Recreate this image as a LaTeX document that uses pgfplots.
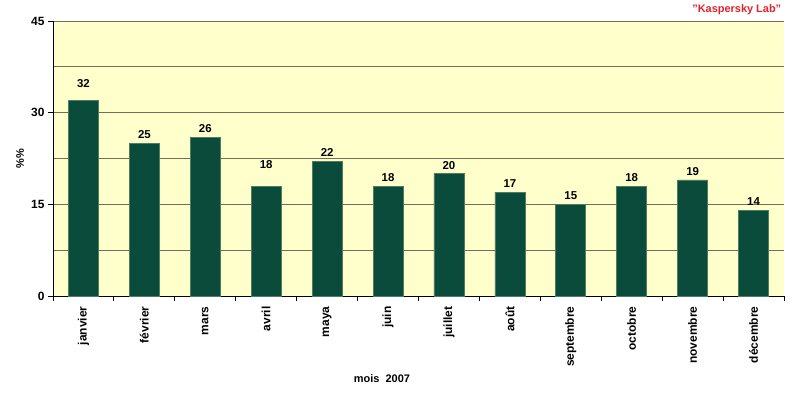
\documentclass[border=0pt]{standalone}
\usepackage{pgfplots}
\pgfplotsset{compat=1.18}
\usepackage{fontspec}
\setmainfont{Liberation Sans}
\definecolor{bg}{HTML}{FFFFCC}
\definecolor{bar}{HTML}{0A4B3C}
\definecolor{barline}{HTML}{4E7E5E}
\definecolor{gridc}{HTML}{707058}
\definecolor{kred}{HTML}{E0242C}
\pgfplotstableread{
x y off
0 32 12.6
1 25 4.6
2 26 4.6
3 18 18
4 22 4.6
5 18 4.6
6 20 4.6
7 17 4.6
8 15 4.6
9 18 4.6
10 19 4.6
11 14 4.6
}\datatable
\begin{document}
\begin{tikzpicture}[x=1bp,y=1bp]
\path[use as bounding box] (-53bp,-104bp) rectangle (747bp,296bp);
\begin{axis}[
  at={(0,0)}, anchor=south west,
  scale only axis, width=731bp, height=275bp,
  xmin=-0.5, xmax=11.5, ymin=0, ymax=45,
  axis x line=bottom, axis y line=left,
  axis line style={-, black, line width=1pt},
  axis background/.style={fill=bg},
  xtick={-0.5,0.5,...,11.5},
  x tick label as interval,
  xticklabels={janvier,février,mars,avril,maya,juin,juillet,août,septembre,octobre,novembre,décembre},
  xticklabel style={rotate=90, anchor=east, font=\fontsize{12}{13}\selectfont\bfseries, xshift=-2bp},
  ytick={0,15,30,45},
  minor ytick={7.5,22.5,37.5},
  yticklabel style={font=\fontsize{12}{13}\selectfont\bfseries},
  /pgf/number format/assume math mode=true,
  ymajorgrids, yminorgrids,
  major grid style={gridc, line width=1pt},
  minor grid style={gridc, line width=1pt},
  tick style={black, line width=1pt},
  major tick length=5bp, minor tick length=0bp,
  tick align=outside,
  xtick pos=bottom, ytick pos=left,
  clip=false,
]
\addplot[ybar, bar width=30bp, fill=bar, draw=barline, line width=0.6bp,
  nodes near coords,
  visualization depends on={\thisrow{off} \as \labeloff},
  every node near coord/.append style={font=\fontsize{11.5}{12}\selectfont\bfseries, black, anchor=base, inner sep=0pt, yshift=\labeloff}]
  table[x=x, y=y] {\datatable};
\node[font=\fontsize{11}{12}\selectfont\bfseries, rotate=90] at (rel axis cs:-0.045,0.5) {\%\%};
\node[font=\fontsize{11}{12}\selectfont\bfseries] at (rel axis cs:0.45,-0.3) {mois\ \ 2007};
\node[font=\fontsize{11}{12}\selectfont\bfseries, text=kred, anchor=east] at (rel axis cs:1.001,1.04) {\symbol{34}Kaspersky Lab\symbol{34}};
\end{axis}
\end{tikzpicture}
\end{document}
